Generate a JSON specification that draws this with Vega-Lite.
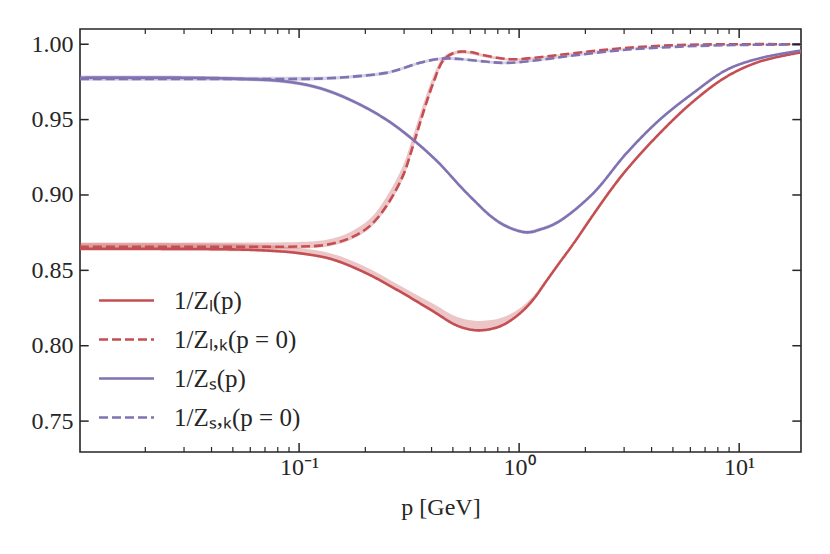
{
  "$schema": "https://vega.github.io/schema/vega-lite/v6.json",
  "autosize": {"type": "none"},
  "padding": {"left": 80, "top": 29, "right": 29, "bottom": 102},
  "width": 721,
  "height": 423,
  "datasets": {
    "curves": [
      {"s": "1/Zₗ(p)", "p": 0.0101, "v": 0.8643, "lo": 0.8630, "hi": 0.8680},
      {"s": "1/Zₗ(p)", "p": 0.02, "v": 0.8643, "lo": 0.8630, "hi": 0.8680},
      {"s": "1/Zₗ(p)", "p": 0.04, "v": 0.8641, "lo": 0.8629, "hi": 0.8678},
      {"s": "1/Zₗ(p)", "p": 0.06, "v": 0.8636, "lo": 0.8626, "hi": 0.8672},
      {"s": "1/Zₗ(p)", "p": 0.08, "v": 0.8627, "lo": 0.8618, "hi": 0.8662},
      {"s": "1/Zₗ(p)", "p": 0.1, "v": 0.8614, "lo": 0.8605, "hi": 0.8648},
      {"s": "1/Zₗ(p)", "p": 0.14, "v": 0.8575, "lo": 0.8566, "hi": 0.8612},
      {"s": "1/Zₗ(p)", "p": 0.2, "v": 0.8484, "lo": 0.8475, "hi": 0.8524},
      {"s": "1/Zₗ(p)", "p": 0.287, "v": 0.8360, "lo": 0.8351, "hi": 0.8400},
      {"s": "1/Zₗ(p)", "p": 0.407, "v": 0.8228, "lo": 0.8219, "hi": 0.8278},
      {"s": "1/Zₗ(p)", "p": 0.52, "v": 0.8135, "lo": 0.8126, "hi": 0.8192},
      {"s": "1/Zₗ(p)", "p": 0.63, "v": 0.8103, "lo": 0.8094, "hi": 0.8166},
      {"s": "1/Zₗ(p)", "p": 0.75, "v": 0.8112, "lo": 0.8103, "hi": 0.8170},
      {"s": "1/Zₗ(p)", "p": 0.85, "v": 0.8140, "lo": 0.8131, "hi": 0.8190},
      {"s": "1/Zₗ(p)", "p": 1.0, "v": 0.8210, "lo": 0.8201, "hi": 0.8245},
      {"s": "1/Zₗ(p)", "p": 1.16, "v": 0.8307, "lo": 0.8298, "hi": 0.8330},
      {"s": "1/Zₗ(p)", "p": 1.33, "v": 0.8429, "lo": 0.8421, "hi": 0.8441},
      {"s": "1/Zₗ(p)", "p": 1.53, "v": 0.8553, "lo": 0.8546, "hi": 0.8560},
      {"s": "1/Zₗ(p)", "p": 1.76, "v": 0.8674, "lo": 0.8668, "hi": 0.8680},
      {"s": "1/Zₗ(p)", "p": 2.17, "v": 0.8868, "lo": 0.8863, "hi": 0.8873},
      {"s": "1/Zₗ(p)", "p": 2.6, "v": 0.9030, "lo": 0.9026, "hi": 0.9034},
      {"s": "1/Zₗ(p)", "p": 3.08, "v": 0.9168, "lo": 0.9164, "hi": 0.9172},
      {"s": "1/Zₗ(p)", "p": 4.36, "v": 0.9410, "lo": 0.9407, "hi": 0.9413},
      {"s": "1/Zₗ(p)", "p": 6.18, "v": 0.9620, "lo": 0.9617, "hi": 0.9623},
      {"s": "1/Zₗ(p)", "p": 8.77, "v": 0.9785, "lo": 0.9783, "hi": 0.9787},
      {"s": "1/Zₗ(p)", "p": 12.4, "v": 0.9885, "lo": 0.9883, "hi": 0.9887},
      {"s": "1/Zₗ(p)", "p": 19.1, "v": 0.9946, "lo": 0.9944, "hi": 0.9948},

      {"s": "1/Zₗ,ₖ(p = 0)", "p": 0.0101, "v": 0.8656, "lo": 0.8643, "hi": 0.8684},
      {"s": "1/Zₗ,ₖ(p = 0)", "p": 0.05, "v": 0.8656, "lo": 0.8643, "hi": 0.8684},
      {"s": "1/Zₗ,ₖ(p = 0)", "p": 0.1, "v": 0.8658, "lo": 0.8645, "hi": 0.8688},
      {"s": "1/Zₗ,ₖ(p = 0)", "p": 0.124, "v": 0.8664, "lo": 0.8651, "hi": 0.8696},
      {"s": "1/Zₗ,ₖ(p = 0)", "p": 0.15, "v": 0.8686, "lo": 0.8673, "hi": 0.8722},
      {"s": "1/Zₗ,ₖ(p = 0)", "p": 0.176, "v": 0.8724, "lo": 0.8710, "hi": 0.8765},
      {"s": "1/Zₗ,ₖ(p = 0)", "p": 0.21, "v": 0.8795, "lo": 0.8780, "hi": 0.8842},
      {"s": "1/Zₗ,ₖ(p = 0)", "p": 0.249, "v": 0.8925, "lo": 0.8908, "hi": 0.8985},
      {"s": "1/Zₗ,ₖ(p = 0)", "p": 0.297, "v": 0.9130, "lo": 0.9110, "hi": 0.9197},
      {"s": "1/Zₗ,ₖ(p = 0)", "p": 0.33, "v": 0.9330, "lo": 0.9308, "hi": 0.9396},
      {"s": "1/Zₗ,ₖ(p = 0)", "p": 0.366, "v": 0.9543, "lo": 0.9522, "hi": 0.9600},
      {"s": "1/Zₗ,ₖ(p = 0)", "p": 0.407, "v": 0.9742, "lo": 0.9722, "hi": 0.9790},
      {"s": "1/Zₗ,ₖ(p = 0)", "p": 0.452, "v": 0.9893, "lo": 0.9877, "hi": 0.9917},
      {"s": "1/Zₗ,ₖ(p = 0)", "p": 0.5, "v": 0.9940, "lo": 0.9925, "hi": 0.9950},
      {"s": "1/Zₗ,ₖ(p = 0)", "p": 0.54, "v": 0.9951, "lo": 0.9938, "hi": 0.9958},
      {"s": "1/Zₗ,ₖ(p = 0)", "p": 0.6, "v": 0.9948, "lo": 0.9933, "hi": 0.9954},
      {"s": "1/Zₗ,ₖ(p = 0)", "p": 0.685, "v": 0.9929, "lo": 0.9915, "hi": 0.9935},
      {"s": "1/Zₗ,ₖ(p = 0)", "p": 0.8, "v": 0.9910, "lo": 0.9898, "hi": 0.9915},
      {"s": "1/Zₗ,ₖ(p = 0)", "p": 0.94, "v": 0.9900, "lo": 0.9890, "hi": 0.9905},
      {"s": "1/Zₗ,ₖ(p = 0)", "p": 1.24, "v": 0.9914, "lo": 0.9906, "hi": 0.9918},
      {"s": "1/Zₗ,ₖ(p = 0)", "p": 1.76, "v": 0.9940, "lo": 0.9935, "hi": 0.9943},
      {"s": "1/Zₗ,ₖ(p = 0)", "p": 2.97, "v": 0.9974, "lo": 0.9971, "hi": 0.9976},
      {"s": "1/Zₗ,ₖ(p = 0)", "p": 5.38, "v": 0.9995, "lo": 0.9993, "hi": 0.9997},
      {"s": "1/Zₗ,ₖ(p = 0)", "p": 10, "v": 1.0000, "lo": 0.9999, "hi": 1.0001},
      {"s": "1/Zₗ,ₖ(p = 0)", "p": 19.1, "v": 1.0000, "lo": 0.9999, "hi": 1.0001},

      {"s": "1/Zₛ(p)", "p": 0.0101, "v": 0.9778, "lo": 0.9765, "hi": 0.9792},
      {"s": "1/Zₛ(p)", "p": 0.03, "v": 0.9778, "lo": 0.9765, "hi": 0.9791},
      {"s": "1/Zₛ(p)", "p": 0.05, "v": 0.9772, "lo": 0.9760, "hi": 0.9784},
      {"s": "1/Zₛ(p)", "p": 0.0877, "v": 0.9752, "lo": 0.9740, "hi": 0.9764},
      {"s": "1/Zₛ(p)", "p": 0.124, "v": 0.9709, "lo": 0.9697, "hi": 0.9721},
      {"s": "1/Zₛ(p)", "p": 0.176, "v": 0.9622, "lo": 0.9610, "hi": 0.9634},
      {"s": "1/Zₛ(p)", "p": 0.249, "v": 0.9500, "lo": 0.9488, "hi": 0.9512},
      {"s": "1/Zₛ(p)", "p": 0.33, "v": 0.9366, "lo": 0.9354, "hi": 0.9378},
      {"s": "1/Zₛ(p)", "p": 0.43, "v": 0.9215, "lo": 0.9203, "hi": 0.9227},
      {"s": "1/Zₛ(p)", "p": 0.538, "v": 0.9060, "lo": 0.9048, "hi": 0.9072},
      {"s": "1/Zₛ(p)", "p": 0.618, "v": 0.8970, "lo": 0.8958, "hi": 0.8982},
      {"s": "1/Zₛ(p)", "p": 0.75, "v": 0.8855, "lo": 0.8843, "hi": 0.8867},
      {"s": "1/Zₛ(p)", "p": 0.877, "v": 0.8792, "lo": 0.8780, "hi": 0.8804},
      {"s": "1/Zₛ(p)", "p": 1.08, "v": 0.8752, "lo": 0.8740, "hi": 0.8764},
      {"s": "1/Zₛ(p)", "p": 1.25, "v": 0.8772, "lo": 0.8760, "hi": 0.8784},
      {"s": "1/Zₛ(p)", "p": 1.5, "v": 0.8820, "lo": 0.8808, "hi": 0.8832},
      {"s": "1/Zₛ(p)", "p": 2.15, "v": 0.9005, "lo": 0.8993, "hi": 0.9017},
      {"s": "1/Zₛ(p)", "p": 3.08, "v": 0.9278, "lo": 0.9267, "hi": 0.9289},
      {"s": "1/Zₛ(p)", "p": 4.36, "v": 0.9500, "lo": 0.9490, "hi": 0.9510},
      {"s": "1/Zₛ(p)", "p": 6.18, "v": 0.9676, "lo": 0.9668, "hi": 0.9684},
      {"s": "1/Zₛ(p)", "p": 8.77, "v": 0.9830, "lo": 0.9824, "hi": 0.9836},
      {"s": "1/Zₛ(p)", "p": 12.4, "v": 0.9907, "lo": 0.9903, "hi": 0.9911},
      {"s": "1/Zₛ(p)", "p": 19.1, "v": 0.9958, "lo": 0.9955, "hi": 0.9961},

      {"s": "1/Zₛ,ₖ(p = 0)", "p": 0.0101, "v": 0.9770, "lo": 0.9758, "hi": 0.9785},
      {"s": "1/Zₛ,ₖ(p = 0)", "p": 0.1, "v": 0.9770, "lo": 0.9758, "hi": 0.9784},
      {"s": "1/Zₛ,ₖ(p = 0)", "p": 0.124, "v": 0.9772, "lo": 0.9761, "hi": 0.9784},
      {"s": "1/Zₛ,ₖ(p = 0)", "p": 0.176, "v": 0.9785, "lo": 0.9775, "hi": 0.9796},
      {"s": "1/Zₛ,ₖ(p = 0)", "p": 0.249, "v": 0.9810, "lo": 0.9800, "hi": 0.9820},
      {"s": "1/Zₛ,ₖ(p = 0)", "p": 0.297, "v": 0.9841, "lo": 0.9831, "hi": 0.9851},
      {"s": "1/Zₛ,ₖ(p = 0)", "p": 0.354, "v": 0.9877, "lo": 0.9867, "hi": 0.9887},
      {"s": "1/Zₛ,ₖ(p = 0)", "p": 0.42, "v": 0.9900, "lo": 0.9890, "hi": 0.9910},
      {"s": "1/Zₛ,ₖ(p = 0)", "p": 0.467, "v": 0.9906, "lo": 0.9896, "hi": 0.9915},
      {"s": "1/Zₛ,ₖ(p = 0)", "p": 0.54, "v": 0.9902, "lo": 0.9892, "hi": 0.9911},
      {"s": "1/Zₛ,ₖ(p = 0)", "p": 0.7, "v": 0.9885, "lo": 0.9876, "hi": 0.9894},
      {"s": "1/Zₛ,ₖ(p = 0)", "p": 0.877, "v": 0.9876, "lo": 0.9867, "hi": 0.9885},
      {"s": "1/Zₛ,ₖ(p = 0)", "p": 1.24, "v": 0.9896, "lo": 0.9888, "hi": 0.9904},
      {"s": "1/Zₛ,ₖ(p = 0)", "p": 1.76, "v": 0.9925, "lo": 0.9918, "hi": 0.9932},
      {"s": "1/Zₛ,ₖ(p = 0)", "p": 2.97, "v": 0.9962, "lo": 0.9957, "hi": 0.9967},
      {"s": "1/Zₛ,ₖ(p = 0)", "p": 5.38, "v": 0.9984, "lo": 0.9981, "hi": 0.9987},
      {"s": "1/Zₛ,ₖ(p = 0)", "p": 10, "v": 0.9995, "lo": 0.9993, "hi": 0.9997},
      {"s": "1/Zₛ,ₖ(p = 0)", "p": 19.1, "v": 0.9998, "lo": 0.9996, "hi": 1.0000}
    ],
    "xmajor": [{"p": 0.1}, {"p": 1}, {"p": 10}],
    "xminor": [
      {"p": 0.02}, {"p": 0.03}, {"p": 0.04}, {"p": 0.05}, {"p": 0.06}, {"p": 0.07}, {"p": 0.08}, {"p": 0.09},
      {"p": 0.2}, {"p": 0.3}, {"p": 0.4}, {"p": 0.5}, {"p": 0.6}, {"p": 0.7}, {"p": 0.8}, {"p": 0.9},
      {"p": 2}, {"p": 3}, {"p": 4}, {"p": 5}, {"p": 6}, {"p": 7}, {"p": 8}, {"p": 9}
    ],
    "ymajor": [{"v": 0.75}, {"v": 0.8}, {"v": 0.85}, {"v": 0.9}, {"v": 0.95}, {"v": 1.0}]
  },
  "data": {"name": "curves"},
  "layer": [
    {
      "mark": {"type": "area", "opacity": 0.32, "interpolate": "catmull-rom", "clip": true},
      "encoding": {
        "x": {
          "field": "p", "type": "quantitative",
          "scale": {"type": "log", "domain": [0.0101, 19.1], "nice": false},
          "axis": {
            "orient": "bottom", "values": [0.1, 1, 10], "title": "p [GeV]",
            "labelExpr": "datum.value < 0.5 ? '10⁻¹' : datum.value < 5 ? '10⁰' : '10¹'",
            "labelPadding": 3, "titlePadding": 16
          }
        },
        "y": {
          "field": "lo", "type": "quantitative", "stack": null,
          "scale": {"domain": [0.7295, 1.0101], "nice": false, "zero": false},
          "axis": {
            "orient": "left", "values": [0.75, 0.8, 0.85, 0.9, 0.95, 1.0], "format": ".2f",
            "title": null, "labelPadding": 7
          }
        },
        "y2": {"field": "hi"},
        "color": {
          "field": "s", "type": "nominal",
          "scale": {"domain": ["1/Zₗ(p)", "1/Zₗ,ₖ(p = 0)", "1/Zₛ(p)", "1/Zₛ,ₖ(p = 0)"], "range": ["#c44e52", "#c44e52", "#8172b2", "#8172b2"]}
        }
      }
    },
    {
      "mark": {"type": "line", "strokeWidth": 2.6, "interpolate": "catmull-rom", "clip": true},
      "encoding": {
        "x": {"field": "p", "type": "quantitative", "axis": null},
        "y": {"field": "v", "type": "quantitative", "axis": null},
        "color": {"field": "s", "type": "nominal"},
        "strokeDash": {
          "field": "s", "type": "nominal",
          "scale": {"domain": ["1/Zₗ(p)", "1/Zₗ,ₖ(p = 0)", "1/Zₛ(p)", "1/Zₛ,ₖ(p = 0)"], "range": [[1, 0], [9, 4], [1, 0], [9, 4]]}
        }
      }
    },
    {
      "data": {"name": "xmajor"},
      "mark": {"type": "rule", "color": "#262626", "strokeWidth": 1.5, "opacity": 1},
      "encoding": {
        "x": {"field": "p", "type": "quantitative", "axis": null},
        "y": {"datum": 0.7295, "type": "quantitative", "axis": null},
        "y2": {"datum": 0.7355}
      }
    },
    {
      "data": {"name": "xmajor"},
      "mark": {"type": "rule", "color": "#262626", "strokeWidth": 1.5, "opacity": 1},
      "encoding": {
        "x": {"field": "p", "type": "quantitative", "axis": null},
        "y": {"datum": 1.0101, "type": "quantitative", "axis": null},
        "y2": {"datum": 1.0041}
      }
    },
    {
      "data": {"name": "xminor"},
      "mark": {"type": "rule", "color": "#262626", "strokeWidth": 1.2, "opacity": 1},
      "encoding": {
        "x": {"field": "p", "type": "quantitative", "axis": null},
        "y": {"datum": 0.7295, "type": "quantitative", "axis": null},
        "y2": {"datum": 0.7328}
      }
    },
    {
      "data": {"name": "xminor"},
      "mark": {"type": "rule", "color": "#262626", "strokeWidth": 1.2, "opacity": 1},
      "encoding": {
        "x": {"field": "p", "type": "quantitative", "axis": null},
        "y": {"datum": 1.0101, "type": "quantitative", "axis": null},
        "y2": {"datum": 1.0068}
      }
    },
    {
      "data": {"name": "ymajor"},
      "mark": {"type": "rule", "color": "#262626", "strokeWidth": 1.5, "opacity": 1},
      "encoding": {
        "y": {"field": "v", "type": "quantitative", "axis": null},
        "x": {"datum": 0.0101, "type": "quantitative", "axis": null},
        "x2": {"datum": 0.01106}
      }
    },
    {
      "data": {"name": "ymajor"},
      "mark": {"type": "rule", "color": "#262626", "strokeWidth": 1.5, "opacity": 1},
      "encoding": {
        "y": {"field": "v", "type": "quantitative", "axis": null},
        "x": {"datum": 19.1, "type": "quantitative", "axis": null},
        "x2": {"datum": 17.44}
      }
    }
  ],
  "resolve": {"axis": {"x": "independent", "y": "independent"}},
  "config": {
    "view": {"stroke": "#262626", "strokeWidth": 1.6},
    "axis": {
      "domain": false, "grid": false, "ticks": false, "tickSize": 0,
      "labelFont": "Liberation Serif", "labelFontSize": 24, "labelColor": "#262626",
      "titleFont": "Liberation Serif", "titleFontSize": 24, "titleFontWeight": "normal", "titleColor": "#262626"
    },
    "legend": {
      "orient": "none", "legendX": 34, "legendY": 259, "title": null, "padding": 0,
      "symbolType": "M-2.5,0L2.5,0", "symbolSize": 484, "symbolStrokeWidth": 2.5, "symbolOpacity": 1,
      "rowPadding": 13, "labelOffset": 35,
      "labelFont": "Liberation Serif", "labelFontSize": 25, "labelColor": "#262626", "labelLimit": 400
    }
  }
}
